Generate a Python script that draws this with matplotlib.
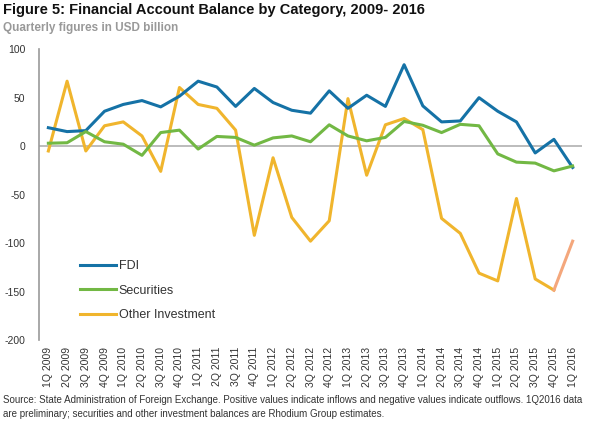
import matplotlib.pyplot as plt

quarters = [f"{q}Q {y}" for y in range(2009, 2017) for q in range(1, 5)][:29]

fdi = [19, 15, 16, 36, 43, 47, 40.5, 51.5, 67, 61, 41, 59.5, 45, 37, 34,
       57, 39, 52.5, 41, 84, 41.5, 25, 26, 50, 36, 25, -7, 7, -22]
securities = [3, 3.5, 15, 4.5, 2, -9.5, 14, 16.5, -3, 10, 9, 1, 8.5, 10.5, 4.5,
              22, 10.5, 5.5, 9, 25.5, 21.5, 14, 22.5, 21, -8, -16.5, -17.5, -25.5, -20.5]
other_inv = [-5, 67, -5, 21, 25, 10.5, -26, 60.5, 43, 39, 16.5, -92, -12, -73.5, -98,
             -77, 49, -30, 22, 28.5, 17, -74.5, -90, -131, -139, -54, -137, -148.5, -98]

plt.rcParams['font.family'] = ['Liberation Sans', 'DejaVu Sans']
plt.rcParams['axes.unicode_minus'] = False

blue = '#1572a6'
green = '#72b844'
gold = '#f0b52d'
salmon = '#f4a77c'

fig = plt.figure(figsize=(6, 4.24), dpi=100)
ax = fig.add_axes([0.065, 0.198, 0.905, 0.686])

x = list(range(len(quarters)))
ax.axhline(0, color='#b0b0b0', lw=1.2, zorder=1)
ax.plot(x, fdi, color=blue, lw=2.2, label='FDI', zorder=3)
ax.plot(x, securities, color=green, lw=2.2, label='Securities', zorder=3)
ax.plot(x[:-1], other_inv[:-1], color=gold, lw=2.2, label='Other Investment', zorder=2)
ax.plot(x[-2:], other_inv[-2:], color=salmon, lw=2.2, zorder=2)

ax.set_xlim(-0.5, 28.5)
ax.set_ylim(-200, 100)
ax.set_yticks(range(-200, 101, 50))
ax.set_xticks(x)
ax.set_xticklabels(quarters, rotation=90, fontsize=7.5, color='#333333')
ax.tick_params(axis='both', length=0, labelsize=7.5, colors='#333333')
ax.tick_params(axis='y', pad=10)
ax.tick_params(axis='x', pad=5)
for s in ['top', 'right', 'bottom']:
    ax.spines[s].set_visible(False)
ax.spines['left'].set_color('#999999')
ax.spines['left'].set_linewidth(1.2)

leg = ax.legend(loc='upper left', bbox_to_anchor=(0.055, 0.313), frameon=False,
                fontsize=9, handlelength=2.9, handletextpad=0.2, labelspacing=1.0)
for t in leg.get_texts():
    t.set_color('#333333')

fig.text(0.005, 0.976, 'Figure 5: Financial Account Balance by Category, 2009- 2016',
         fontsize=10.5, fontweight='bold', va='center', ha='left', color='#111111')
fig.text(0.005, 0.933, 'Quarterly figures in USD billion', fontsize=8.5,
         fontweight='bold', va='center', ha='left', color='#999999')
fig.text(0.005, 0.04,
         'Source: State Administration of Foreign Exchange. Positive values indicate inflows and negative values indicate outflows. 1Q2016 data\n'
         'are preliminary; securities and other investment balances are Rhodium Group estimates.',
         fontsize=7.0, va='center', ha='left', color='#333333', linespacing=1.5)

fig.savefig('out.png', dpi=100)
